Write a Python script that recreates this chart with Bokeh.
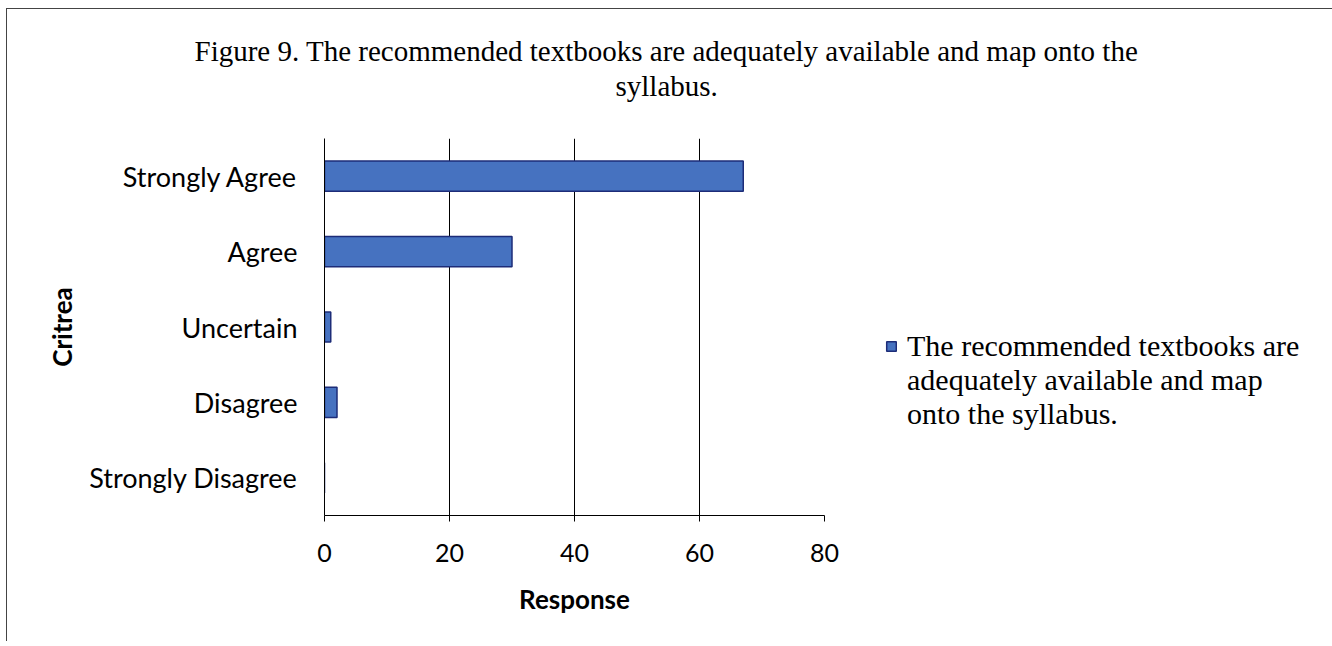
from bokeh.plotting import figure
from bokeh.models import (FactorRange, Range1d, Legend, LegendItem, Title, FixedTicker,
                          ColumnDataSource)
from bokeh.embed import file_html
from bokeh.resources import INLINE

categories = ["Strongly Agree", "Agree", "Uncertain", "Disagree", "Strongly Disagree"]
responses = [67, 30, 1, 2, 0]
x_ticks = [0, 20, 40, 60, 80]
series_name = "The recommended textbooks are\nadequately available and map\nonto the syllabus."
title_line1 = "Figure 9. The recommended textbooks are adequately available and map onto the"
title_line2 = "syllabus."
x_label = "Response"
y_label = "Critrea"

SANS = "Lato"
SERIF = "Liberation Serif"

p = figure(frame_width=500, frame_height=377,
           y_range=FactorRange(factors=categories[::-1]),
           x_range=Range1d(0, 80),
           output_backend="svg", toolbar_location=None,
           min_border_left=317, min_border_right=60,
           min_border_top=129, min_border_bottom=126)
p.styles = {"border-top": "1px solid #444", "border-left": "1px solid #444",
            "border-right": "1px solid #444", "margin-left": "6px", "margin-top": "8px"}
p.outline_line_color = None
p.background_fill_color = "white"
p.border_fill_color = "white"

src = ColumnDataSource(dict(cat=categories, val=responses))
r = p.hbar(y="cat", right="val", left=0, height=0.4, source=src,
           fill_color="#4672C0", line_color="#1D2C78", line_width=1.5)

# axes
p.xaxis.ticker = FixedTicker(ticks=x_ticks)
p.xaxis.axis_line_color = "black"
p.xaxis.major_tick_line_color = "black"
p.xaxis.major_tick_out = 6
p.xaxis.major_tick_in = 0
p.xaxis.minor_tick_line_color = None
p.xaxis.major_label_text_font = SANS
p.xaxis.major_label_text_font_size = "25px"
p.xaxis.major_label_text_color = "black"
p.xaxis.major_label_standoff = 22
p.xaxis.axis_label = x_label
p.xaxis.axis_label_text_font = SANS
p.xaxis.axis_label_text_font_style = "bold"
p.xaxis.axis_label_text_font_size = "26px"
p.xaxis.axis_label_text_color = "black"
p.xaxis.axis_label_standoff = 18

p.yaxis.axis_line_color = "black"
p.yaxis.major_tick_line_color = None
p.yaxis.major_tick_out = 0
p.yaxis.major_tick_in = 0
p.yaxis.minor_tick_line_color = None
p.yaxis.major_label_text_font = SANS
p.yaxis.major_label_text_font_size = "27px"
p.yaxis.major_label_text_color = "black"
p.yaxis.major_label_standoff = 27
p.yaxis.axis_label = y_label
p.yaxis.axis_label_text_font = SANS
p.yaxis.axis_label_text_font_style = "bold"
p.yaxis.axis_label_text_font_size = "26px"
p.yaxis.axis_label_text_color = "black"
p.yaxis.axis_label_standoff = 8

p.xgrid.ticker = FixedTicker(ticks=x_ticks)
p.xgrid.grid_line_color = "black"
p.xgrid.grid_line_width = 1
p.ygrid.grid_line_color = None

# two-line title (second line centred under the first)
p.title.text = title_line1
p.title.align = "left"
p.title.offset = -130
p.title.text_font = SERIF
p.title.text_font_size = "29px"
p.title.text_font_style = "normal"
p.title.text_color = "black"
p.title.standoff = -72

t2 = Title(text=title_line2, align="left", offset=291, text_font=SERIF,
           text_font_size="29px", text_font_style="normal", text_color="black",
           standoff=74)
p.add_layout(t2, "above")

# legend: one series, its name wrapped over three lines
name_lines = series_name.split("\n")
items = [LegendItem(label=name_lines[0], renderers=[r])]
items += [LegendItem(label=t, renderers=[]) for t in name_lines[1:]]
legend = Legend(items=items, location=(61, 84), glyph_width=12, glyph_height=12,
                label_text_font=SERIF, label_text_font_size="30px",
                label_text_color="black", label_standoff=10, padding=0, spacing=0,
                margin=0, border_line_color=None, background_fill_alpha=0)
p.add_layout(legend, "right")

open("out.html", "w").write(file_html(p, INLINE))
